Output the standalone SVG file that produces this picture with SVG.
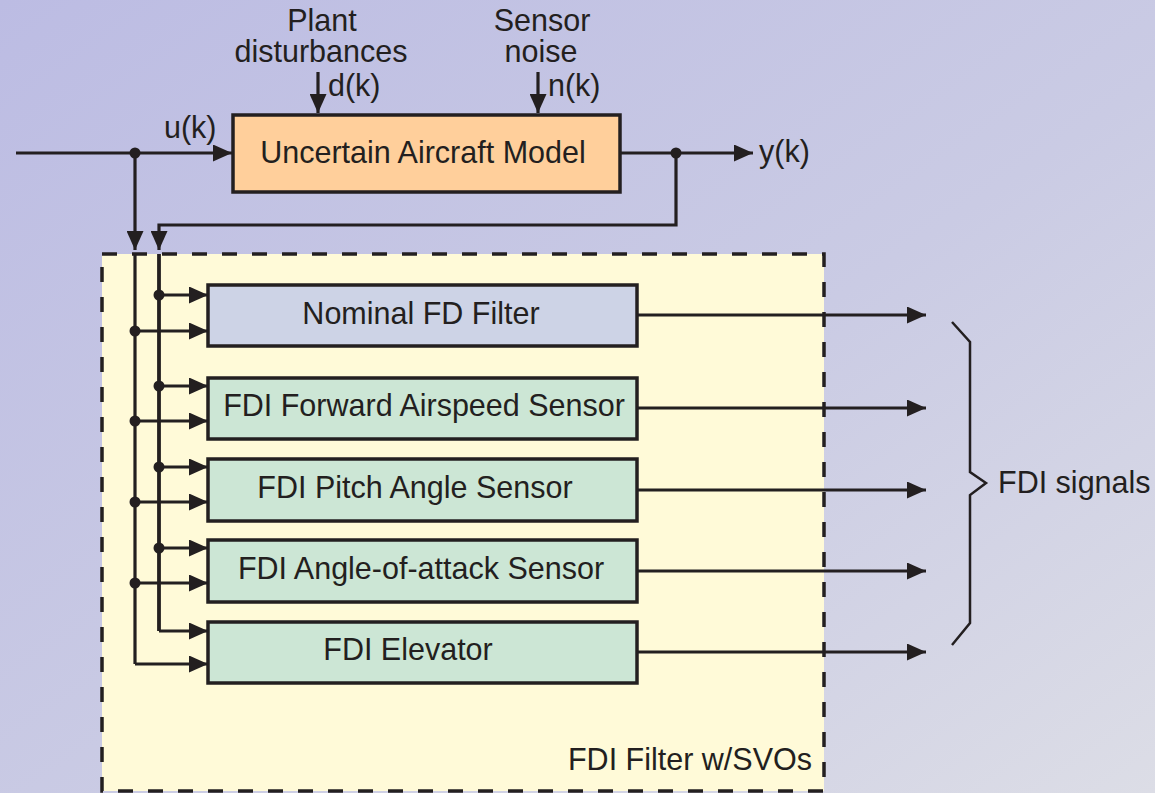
<svg xmlns="http://www.w3.org/2000/svg" width="1155" height="793" viewBox="0 0 1155 793">
<defs>
<linearGradient id="bg" x1="0" y1="0" x2="1" y2="1">
<stop offset="0" stop-color="#bcbce3"/>
<stop offset="0.55" stop-color="#cacbe4"/>
<stop offset="1" stop-color="#dcdde6"/>
</linearGradient>
<marker id="ah" viewBox="0 0 19 17" refX="19" refY="8.5" markerWidth="19" markerHeight="17" markerUnits="userSpaceOnUse" orient="auto">
<path d="M0,0 L19,8.5 L0,17 Z" fill="#231f20"/>
</marker>
<style>
text{font-family:"Liberation Sans",Arial,Helvetica,sans-serif;font-size:30.5px;fill:#231f20}
.mid{text-anchor:middle}
.box{stroke:#231f20;stroke-width:3.5}
.w{fill:none;stroke:#231f20;stroke-width:3.2}
.a{fill:none;stroke:#231f20;stroke-width:3.2;marker-end:url(#ah)}
.dot{fill:#231f20}
</style>
</defs>
<rect x="0" y="0" width="1155" height="793" fill="url(#bg)"/>

<g id="fdi-filter-svos">
<rect x="102" y="254" width="722" height="537" fill="#fffad8" stroke="#231f20" stroke-width="3.5" stroke-dasharray="15 15"/>
<text x="812" y="770" text-anchor="end">FDI Filter w/SVOs</text>
</g>

<g id="aircraft-model">
<rect class="box" x="233" y="115" width="387" height="77" fill="#ffcf9b"/>
<text class="mid" x="423" y="163">Uncertain Aircraft Model</text>
</g>

<g id="nominal-fd">
<rect class="box" x="208" y="285" width="429" height="61" fill="#cdd3e6"/>
<text class="mid" x="421" y="324">Nominal FD Filter</text>
</g>
<g id="fdi-airspeed">
<rect class="box" x="208" y="378" width="429" height="61" fill="#cce6d5"/>
<text class="mid" x="424" y="416">FDI Forward Airspeed Sensor</text>
</g>
<g id="fdi-pitch">
<rect class="box" x="208" y="459" width="429" height="62" fill="#cce6d5"/>
<text class="mid" x="415" y="498">FDI Pitch Angle Sensor</text>
</g>
<g id="fdi-aoa">
<rect class="box" x="208" y="540" width="429" height="62" fill="#cce6d5"/>
<text class="mid" x="421" y="579">FDI Angle-of-attack Sensor</text>
</g>
<g id="fdi-elevator">
<rect class="box" x="208" y="622" width="429" height="61" fill="#cce6d5"/>
<text class="mid" x="408" y="660">FDI Elevator</text>
</g>

<g id="labels">
<text class="mid" x="322" y="31">Plant</text>
<text class="mid" x="321" y="62">disturbances</text>
<text x="328" y="96">d(k)</text>
<text class="mid" x="542" y="31">Sensor</text>
<text class="mid" x="541" y="62">noise</text>
<text x="548" y="96">n(k)</text>
<text x="164" y="138">u(k)</text>
<text x="759" y="162">y(k)</text>
<text x="998" y="493">FDI signals</text>
</g>

<g id="connectors">
<line class="a" x1="318" y1="72" x2="318" y2="113"/>
<line class="a" x1="538" y1="72" x2="538" y2="113"/>
<line class="a" x1="16" y1="153" x2="232" y2="153"/>
<line class="a" x1="620" y1="153" x2="753" y2="153"/>
<polyline class="w" points="676,153 676,225 159,225 159,250" style="marker-end:url(#ah)"/>
<line class="a" x1="135" y1="153" x2="135" y2="250"/>
<polyline class="w" points="135,254 135,664"/>
<polyline class="w" points="159,254 159,631" style="stroke-width:3.8"/>
<line class="a" x1="135" y1="664" x2="208" y2="664"/>
<line class="a" x1="159" y1="631" x2="208" y2="631"/>
<line class="a" x1="159" y1="295" x2="208" y2="295"/>
<line class="a" x1="135" y1="331" x2="208" y2="331"/>
<line class="a" x1="159" y1="386" x2="208" y2="386"/>
<line class="a" x1="135" y1="421" x2="208" y2="421"/>
<line class="a" x1="159" y1="467" x2="208" y2="467"/>
<line class="a" x1="135" y1="502" x2="208" y2="502"/>
<line class="a" x1="159" y1="548" x2="208" y2="548"/>
<line class="a" x1="135" y1="583" x2="208" y2="583"/>
<line class="a" x1="637" y1="315" x2="926" y2="315"/>
<line class="a" x1="637" y1="408" x2="926" y2="408"/>
<line class="a" x1="637" y1="490" x2="926" y2="490"/>
<line class="a" x1="637" y1="571" x2="926" y2="571"/>
<line class="a" x1="637" y1="652" x2="926" y2="652"/>
<circle class="dot" cx="135" cy="153" r="5.5"/>
<circle class="dot" cx="676" cy="153" r="5.5"/>
<circle class="dot" cx="159" cy="295" r="5.5"/>
<circle class="dot" cx="135" cy="331" r="5.5"/>
<circle class="dot" cx="159" cy="386" r="5.5"/>
<circle class="dot" cx="135" cy="421" r="5.5"/>
<circle class="dot" cx="159" cy="467" r="5.5"/>
<circle class="dot" cx="135" cy="502" r="5.5"/>
<circle class="dot" cx="159" cy="548" r="5.5"/>
<circle class="dot" cx="135" cy="583" r="5.5"/>
<polyline points="952,322 970,342 970,472 986,483 970,495 970,623 952,645" fill="none" stroke="#231f20" stroke-width="2.5"/>
</g>
</svg>
